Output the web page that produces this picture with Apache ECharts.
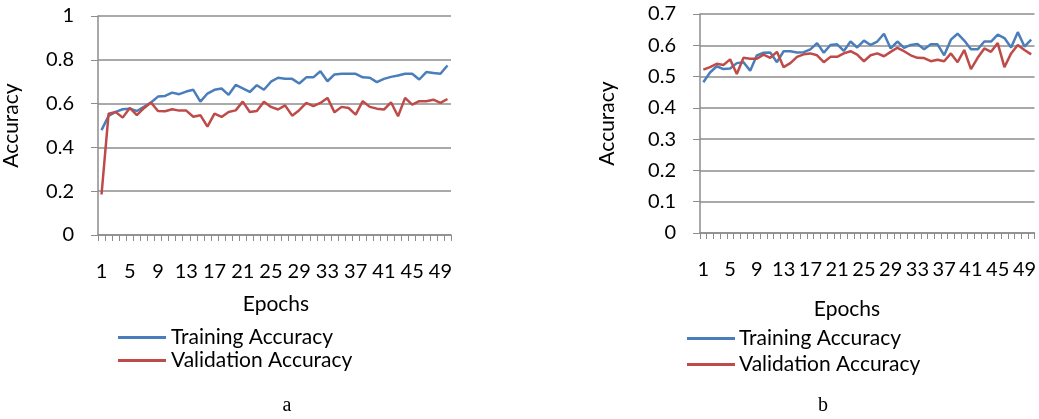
<!DOCTYPE html>
<html>
<head>
<meta charset="utf-8">
<script src="https://cdn.jsdelivr.net/npm/echarts@6/dist/echarts.min.js"></script>
<style>
  html, body { margin: 0; padding: 0; background: #fff; }
  #main { width: 1039px; height: 419px; }
</style>
</head>
<body>
<div id="main"></div>
<script>
const chartDom = document.getElementById("main");
const myChart = echarts.init(chartDom);

const epochs = Array.from({ length: 50 }, (_, i) => String(i + 1));

// chart a
const trainA = [
  0.479, 0.544, 0.562, 0.574, 0.577, 0.566, 0.585, 0.605, 0.632, 0.635,
  0.65, 0.643, 0.655, 0.663, 0.609, 0.646, 0.663, 0.669, 0.64, 0.685,
  0.669, 0.653, 0.684, 0.663, 0.7, 0.718, 0.713, 0.713, 0.692, 0.72,
  0.72, 0.748, 0.702, 0.733, 0.736, 0.736, 0.736, 0.72, 0.718, 0.698,
  0.713, 0.722, 0.728, 0.736, 0.736, 0.71, 0.744, 0.74, 0.736, 0.774
];
const validA = [
  0.185, 0.554, 0.562, 0.536, 0.58, 0.547, 0.579, 0.605, 0.566, 0.565,
  0.574, 0.568, 0.568, 0.54, 0.547, 0.495, 0.554, 0.539, 0.562, 0.569,
  0.609, 0.562, 0.566, 0.609, 0.585, 0.573, 0.592, 0.545, 0.57, 0.603,
  0.588, 0.603, 0.626, 0.56, 0.585, 0.58, 0.55, 0.611, 0.585, 0.577,
  0.573, 0.606, 0.542, 0.626, 0.595, 0.611, 0.611, 0.618, 0.603, 0.621
];

// chart b
const trainB = [
  0.482, 0.513, 0.533, 0.524, 0.526, 0.543, 0.546, 0.519, 0.568, 0.576,
  0.577, 0.546, 0.581, 0.581, 0.577, 0.578, 0.587, 0.607, 0.576, 0.601,
  0.603, 0.582, 0.612, 0.593, 0.615, 0.601, 0.612, 0.637, 0.59, 0.612,
  0.592, 0.601, 0.604, 0.587, 0.603, 0.603, 0.568, 0.618, 0.637, 0.615,
  0.587, 0.587, 0.612, 0.612, 0.634, 0.623, 0.593, 0.642, 0.596, 0.618
];
const validB = [
  0.522, 0.53, 0.541, 0.537, 0.555, 0.508, 0.56, 0.557, 0.557, 0.57,
  0.56, 0.579, 0.53, 0.543, 0.563, 0.571, 0.574, 0.568, 0.546, 0.563,
  0.563, 0.574, 0.581, 0.57, 0.549, 0.568, 0.574, 0.565, 0.579, 0.592,
  0.581, 0.568, 0.56, 0.559, 0.549, 0.554, 0.549, 0.574, 0.546, 0.585,
  0.524, 0.56, 0.59, 0.579, 0.607, 0.53, 0.574, 0.601, 0.585, 0.571
];

const seriesNames = ["Training Accuracy", "Validation Accuracy"];
const colors = ["#4a7ebb", "#be4b48"];

const FONT = "Lato";
const textColor = "#000";
const gridColor = "#8c8c8c";

function makeXAxis(gridIndex) {
  return {
    type: "category",
    gridIndex: gridIndex,
    data: epochs,
    boundaryGap: true,
    axisLine: { lineStyle: { color: gridColor, width: 1.5 } },
    axisTick: { show: true, interval: 0, length: 6, lineStyle: { color: gridColor } },
    axisLabel: {
      interval: 3,
      margin: 27,
      color: textColor,
      fontFamily: FONT,
      fontSize: 20,
    },
  };
}

function makeYAxis(gridIndex, max, interval) {
  return {
    type: "value",
    gridIndex: gridIndex,
    min: 0,
    max: max,
    interval: interval,
    name: "Accuracy",
    nameLocation: "middle",
    nameGap: gridIndex === 0 ? 76 : 82,
    nameTextStyle: { color: textColor, fontFamily: FONT, fontSize: 21 },
    axisLine: { show: true, lineStyle: { color: gridColor, width: 1.5 } },
    axisTick: { show: true, length: 7, lineStyle: { color: gridColor } },
    splitLine: { show: true, lineStyle: { color: gridColor, width: 1.5 } },
    axisLabel: {
      margin: 24,
      color: textColor,
      fontFamily: FONT,
      fontSize: 20,
      formatter: (v) => String(+v.toFixed(1)),
    },
  };
}

function makeSeries(name, data, idx, color) {
  return {
    type: "line",
    name: name,
    data: data,
    xAxisIndex: idx,
    yAxisIndex: idx,
    symbol: "none",
    lineStyle: { color: color, width: 2.5 },
    itemStyle: { color: color },
  };
}

function makeLegend(left, top, gap, textPad) {
  return {
    orient: "vertical",
    left: left,
    top: top,
    icon: "rect",
    itemWidth: 48,
    itemHeight: 3,
    itemGap: gap,
    padding: 0,
    data: seriesNames,
    textStyle: {
      color: textColor,
      fontFamily: FONT,
      fontSize: 21,
      lineHeight: 20,
      padding: [0, 0, 0, textPad],
    },
  };
}

myChart.setOption({
  animation: false,
  grid: [
    { left: 96, top: 16, width: 355, height: 219 },
    { left: 700, top: 14, width: 343, height: 219 },
  ],
  xAxis: [makeXAxis(0), makeXAxis(1)],
  yAxis: [makeYAxis(0, 1, 0.2), makeYAxis(1, 0.7, 0.1)],
  legend: [makeLegend(118, 327, 2, 0), makeLegend(687, 328, 5, -1)],
  series: [
    makeSeries(seriesNames[0], trainA, 0, colors[0]),
    makeSeries(seriesNames[1], validA, 0, colors[1]),
    makeSeries(seriesNames[0], trainB, 1, colors[0]),
    makeSeries(seriesNames[1], validB, 1, colors[1]),
  ],
  graphic: [
    { type: "text", x: 276, y: 304, style: { text: "Epochs", fill: textColor, font: "21px Lato", textAlign: "center", textVerticalAlign: "middle" } },
    { type: "text", x: 847, y: 309, style: { text: "Epochs", fill: textColor, font: "21px Lato", textAlign: "center", textVerticalAlign: "middle" } },
    { type: "text", x: 287, y: 406, style: { text: "a", fill: "#000", font: "20px 'Liberation Serif'", textAlign: "center", textVerticalAlign: "middle" } },
    { type: "text", x: 823, y: 406, style: { text: "b", fill: "#000", font: "20px 'Liberation Serif'", textAlign: "center", textVerticalAlign: "middle" } },
  ],
});
</script>
</body>
</html>
